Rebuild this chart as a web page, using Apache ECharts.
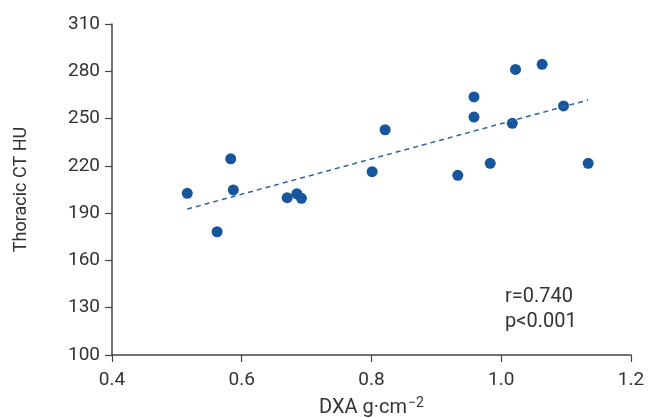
<!DOCTYPE html>
<html>
<head>
<meta charset="utf-8">
<script src="https://cdn.jsdelivr.net/npm/echarts@6/dist/echarts.min.js"></script>
<style>html,body{margin:0;padding:0;background:#fff}#c{width:657px;height:418px}</style>
</head>
<body>
<div id="c"></div>
<script>
var dxa = [0.516, 0.562, 0.583, 0.587, 0.670, 0.685, 0.692, 0.801, 0.821, 0.933, 0.958, 0.958, 0.983, 1.017, 1.022, 1.063, 1.096, 1.134];
var hu  = [202.6, 178.2, 224.5, 204.7, 199.8, 202.3, 199.4, 216.3, 242.9, 214.0, 263.7, 251.0, 221.6, 247.0, 281.2, 284.4, 258.0, 221.6];
var trendX = [0.516, 1.134];
var trendY = [192.6, 261.8];
var xTicks = [0.4, 0.6, 0.8, 1.0, 1.2];
var yTicks = [100, 130, 160, 190, 220, 250, 280, 310];
var statText = ['r=0.740', 'p<0.001'];

var font = 'Roboto, "Liberation Sans", sans-serif';
var txt = '#333';
var axisCol = '#444';
var chart = echarts.init(document.getElementById('c'), null, {renderer: 'canvas'});
chart.setOption({
  animation: false,
  grid: {left: 112, top: 24, right: 26, bottom: 63, containLabel: false, outerBoundsMode: 'none'},
  xAxis: {
    type: 'value', min: 0.4, max: 1.2, interval: 0.2,
    name: '{a|DXA g·cm}{s|−2}', nameLocation: 'middle', nameGap: 41,
    nameTextStyle: {rich: {
      a: {fontFamily: font, fontSize: 20, color: txt, verticalAlign: 'bottom', lineHeight: 22},
      s: {fontFamily: font, fontSize: 14, color: txt, verticalAlign: 'top', padding: [0,0,9,1], lineHeight: 22}
    }},
    axisLine: {show: true, lineStyle: {color: axisCol, width: 1.5}},
    axisTick: {show: true, length: 7, lineStyle: {color: axisCol, width: 1.2}},
    axisLabel: {fontFamily: font, fontSize: 19, color: txt, margin: 16,
      formatter: function (v) { return xTicks.indexOf(+v.toFixed(1)) >= 0 ? v.toFixed(1) : ''; }},
    splitLine: {show: false}
  },
  yAxis: {
    type: 'value', min: 100, max: 310, interval: 30,
    name: 'Thoracic CT HU', nameLocation: 'middle', nameGap: 82,
    nameTextStyle: {fontFamily: font, fontSize: 18, color: txt},
    axisLine: {show: true, lineStyle: {color: axisCol, width: 1.5}},
    axisTick: {show: true, length: 7, lineStyle: {color: axisCol, width: 1.2}},
    axisLabel: {fontFamily: font, fontSize: 19, color: txt, margin: 12,
      formatter: function (v) { return yTicks.indexOf(v) >= 0 ? String(v) : ''; }},
    splitLine: {show: false}
  },
  series: [
    {
      type: 'line', data: trendX.map(function (x, i) { return [x, trendY[i]]; }),
      symbol: 'none', silent: true,
      lineStyle: {color: '#2c65a6', width: 1.5, type: [5, 4]}
    },
    {
      type: 'scatter', data: dxa.map(function (x, i) { return [x, hu[i]]; }),
      symbolSize: 11, itemStyle: {color: '#17569c', opacity: 1}
    }
  ],
  graphic: [
    {type: 'text', left: 505, top: 284, style: {text: statText.join('\n'), fontFamily: font, fontSize: 20, lineHeight: 25, fill: txt}}
  ]
});
</script>
</body>
</html>
